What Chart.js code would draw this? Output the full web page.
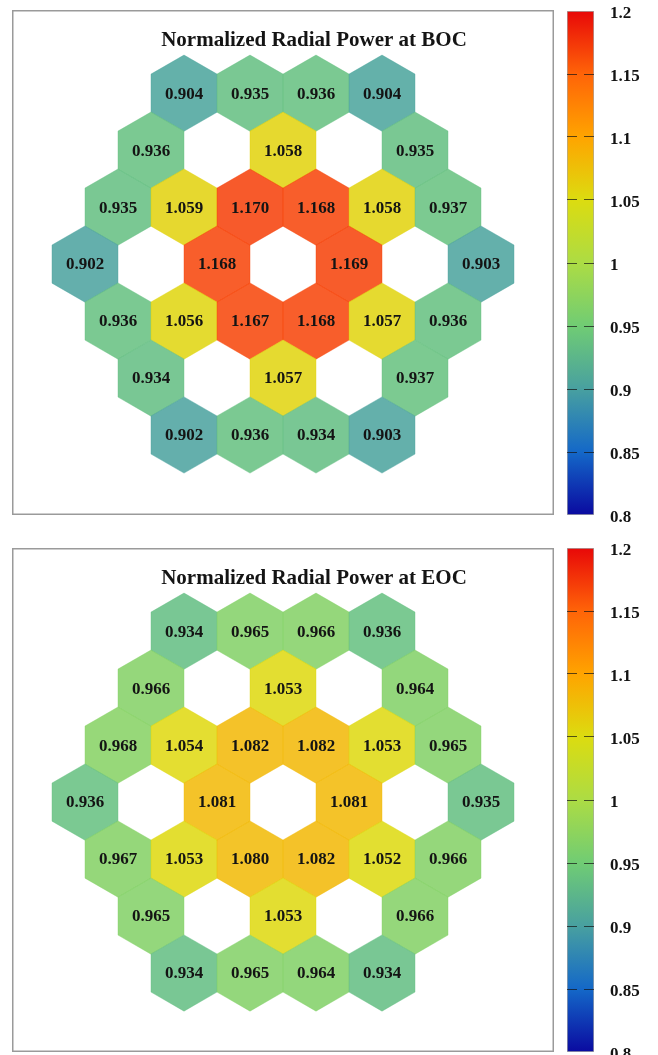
<!DOCTYPE html>
<html>
<head>
<meta charset="utf-8">
<script src="https://cdn.jsdelivr.net/npm/chart.js@4.4.1/dist/chart.umd.min.js"></script>
<style>
  html, body { margin: 0; padding: 0; background: #fff; width: 658px; height: 1055px; overflow: hidden; }
  .box { position: absolute; }
</style>
</head>
<body>
<div class="box" style="left:12px;top:10px;width:542px;height:505px"><canvas id="mapBOC"></canvas></div>
<div class="box" style="left:567px;top:0px;width:91px;height:530px"><canvas id="barBOC"></canvas></div>
<div class="box" style="left:12px;top:548px;width:542px;height:504px"><canvas id="mapEOC"></canvas></div>
<div class="box" style="left:567px;top:537px;width:91px;height:530px"><canvas id="barEOC"></canvas></div>

<script>
// Assembly positions on the hexagonal lattice (row r, axial column q), row by row from the top
const rowIndex = [-3,-3,-3,-3, -2,-2,-2, -1,-1,-1,-1,-1,-1, 0,0,0,0, 1,1,1,1,1,1, 2,2,2, 3,3,3,3];
const colIndex = [ 0, 1, 2, 3, -1, 1, 3, -2,-1, 0, 1, 2, 3, -3,-1,1,3, -3,-2,-1,0,1,2, -3,-1,1, -3,-2,-1,0];

// Normalized radial power per assembly
const powerBOC = [
  0.904, 0.935, 0.936, 0.904,
  0.936, 1.058, 0.935,
  0.935, 1.059, 1.170, 1.168, 1.058, 0.937,
  0.902, 1.168, 1.169, 0.903,
  0.936, 1.056, 1.167, 1.168, 1.057, 0.936,
  0.934, 1.057, 0.937,
  0.902, 0.936, 0.934, 0.903
];
const powerEOC = [
  0.934, 0.965, 0.966, 0.936,
  0.966, 1.053, 0.964,
  0.968, 1.054, 1.082, 1.082, 1.053, 0.965,
  0.936, 1.081, 1.081, 0.935,
  0.967, 1.053, 1.080, 1.082, 1.052, 0.966,
  0.965, 1.053, 0.966,
  0.934, 0.965, 0.964, 0.934
];

// Colour scale
const colorTicks = [0.8, 0.85, 0.9, 0.95, 1.0, 1.05, 1.1, 1.15, 1.2];
const colorTickLabels = ['0.8', '0.85', '0.9', '0.95', '1', '1.05', '1.1', '1.15', '1.2'];
const cmapStops  = [0.80, 0.85, 0.90, 0.95, 1.00, 1.05, 1.10, 1.15, 1.20];
const cmapColors = ['#0a0aa0', '#1468c8', '#48a0a0', '#70cc74', '#acdc44', '#dcdc10', '#ffa400', '#ff6408', '#e80808'];

const SERIF = '"Liberation Serif", "DejaVu Serif", serif';

function hexToRgb(h) {
  return [parseInt(h.slice(1, 3), 16), parseInt(h.slice(3, 5), 16), parseInt(h.slice(5, 7), 16)];
}
function colorFor(v, alpha) {
  const lo = cmapStops[0], hi = cmapStops[cmapStops.length - 1];
  const t = Math.min(Math.max(v, lo), hi);
  let i = 0;
  while (i < cmapStops.length - 2 && t > cmapStops[i + 1]) i++;
  const f = (t - cmapStops[i]) / (cmapStops[i + 1] - cmapStops[i]);
  const a = hexToRgb(cmapColors[i]), b = hexToRgb(cmapColors[i + 1]);
  const c = a.map((x, k) => Math.round(x + (b[k] - x) * f));
  return `rgba(${c[0]},${c[1]},${c[2]},${alpha})`;
}

// Draws each assembly as a pointy-top hexagon centred on its scatter point
const hexCells = {
  id: 'hexCells',
  beforeDatasetsDraw(chart) {
    const { ctx, scales: { x } } = chart;
    const R = (x.getPixelForValue(1) - x.getPixelForValue(0)) / Math.sqrt(3);
    const pts = chart.data.datasets[0].data;
    ctx.save();
    chart.getDatasetMeta(0).data.forEach((el, i) => {
      const v = pts[i].v;
      ctx.beginPath();
      for (let k = 0; k < 6; k++) {
        const a = Math.PI / 180 * (60 * k - 90);
        const px = el.x + R * Math.cos(a), py = el.y + R * Math.sin(a);
        if (k === 0) ctx.moveTo(px, py); else ctx.lineTo(px, py);
      }
      ctx.closePath();
      ctx.fillStyle = colorFor(v, 0.86);
      ctx.fill();
      ctx.strokeStyle = colorFor(v, 0.5);
      ctx.lineWidth = 0.8;
      ctx.stroke();
    });
    ctx.restore();
  },
  afterDatasetsDraw(chart) {
    const { ctx } = chart;
    const pts = chart.data.datasets[0].data;
    ctx.save();
    ctx.font = 'bold 17px ' + SERIF;
    ctx.fillStyle = '#141414';
    ctx.textAlign = 'center';
    ctx.textBaseline = 'middle';
    chart.getDatasetMeta(0).data.forEach((el, i) => {
      ctx.fillText(pts[i].v.toFixed(3), el.x, el.y + 1);
    });
    ctx.restore();
  },
  afterDraw(chart) {
    const { ctx, width, height } = chart;
    ctx.save();
    ctx.strokeStyle = '#9a9a9a';
    ctx.lineWidth = 1.5;
    ctx.strokeRect(0.75, 0.75, width - 1.5, height - 1.5);
    ctx.restore();
  }
};

function makeMap(id, values, title, yMin) {
  const points = values.map((v, i) => ({
    x: colIndex[i] + rowIndex[i] / 2,
    y: -rowIndex[i],
    v: v
  }));
  return new Chart(document.getElementById(id), {
    type: 'scatter',
    data: { datasets: [{ data: points, pointRadius: 0, pointHoverRadius: 0 }] },
    options: {
      animation: false,
      responsive: true,
      maintainAspectRatio: false,
      layout: { padding: { left: 62, right: 0, top: 0, bottom: 0 } },
      events: [],
      plugins: {
        legend: { display: false },
        tooltip: { enabled: false },
        title: {
          display: true,
          text: title,
          color: '#141414',
          font: { family: SERIF, size: 21, weight: 'bold', lineHeight: 1.2 },
          padding: { top: 18, bottom: 0 }
        }
      },
      scales: {
        x: { type: 'linear', display: false, min: -3.1667, max: 4.106 },
        y: { type: 'linear', display: false, min: yMin, max: 3.7016 }
      }
    },
    plugins: [hexCells]
  });
}

function makeColorbar(id) {
  return new Chart(document.getElementById(id), {
    type: 'bar',
    data: {
      labels: [''],
      datasets: [{
        data: [[colorTicks[0], colorTicks[colorTicks.length - 1]]],
        backgroundColor: (c) => {
          const chart = c.chart;
          if (!chart.chartArea) return '#888';
          const y = chart.scales.y;
          const g = chart.ctx.createLinearGradient(0, y.getPixelForValue(cmapStops[0]), 0, y.getPixelForValue(cmapStops[cmapStops.length - 1]));
          cmapStops.forEach((s, i) => g.addColorStop((s - cmapStops[0]) / (cmapStops[cmapStops.length - 1] - cmapStops[0]), cmapColors[i]));
          return g;
        },
        borderColor: 'rgba(60,60,60,0.45)',
        borderWidth: 1,
        borderSkipped: false,
        barPercentage: 1,
        categoryPercentage: 1
      }]
    },
    options: {
      animation: false,
      responsive: true,
      maintainAspectRatio: false,
      events: [],
      layout: { padding: { top: 11, bottom: 15, left: 0, right: 0 } },
      plugins: { legend: { display: false }, tooltip: { enabled: false } },
      scales: {
        x: { display: false },
        y: {
          position: 'right',
          min: colorTicks[0],
          max: colorTicks[colorTicks.length - 1],
          afterBuildTicks: (axis) => { axis.ticks = colorTicks.map(v => ({ value: v })); },
          afterFit: (axis) => { axis.width = 64; axis.paddingTop = 0; axis.paddingBottom = 0; },
          ticks: {
            callback: (v, i) => colorTickLabels[i],
            padding: 16,
            labelOffset: 3,
            color: '#141414',
            font: { family: SERIF, size: 17, weight: 'bold' }
          },
          grid: {
            drawTicks: false,
            z: 1,
            lineWidth: 1,
            color: (c) => (c.index === 0 || c.index === colorTicks.length - 1) ? 'rgba(0,0,0,0)' : 'rgba(20,20,20,0.7)'
          },
          border: { display: false, dash: [10, 7] }
        }
      }
    }
  });
}

makeMap('mapBOC', powerBOC, 'Normalized Radial Power at BOC', -4.404);
makeColorbar('barBOC');
makeMap('mapEOC', powerEOC, 'Normalized Radial Power at EOC', -4.386);
makeColorbar('barEOC');
</script>
</body>
</html>
